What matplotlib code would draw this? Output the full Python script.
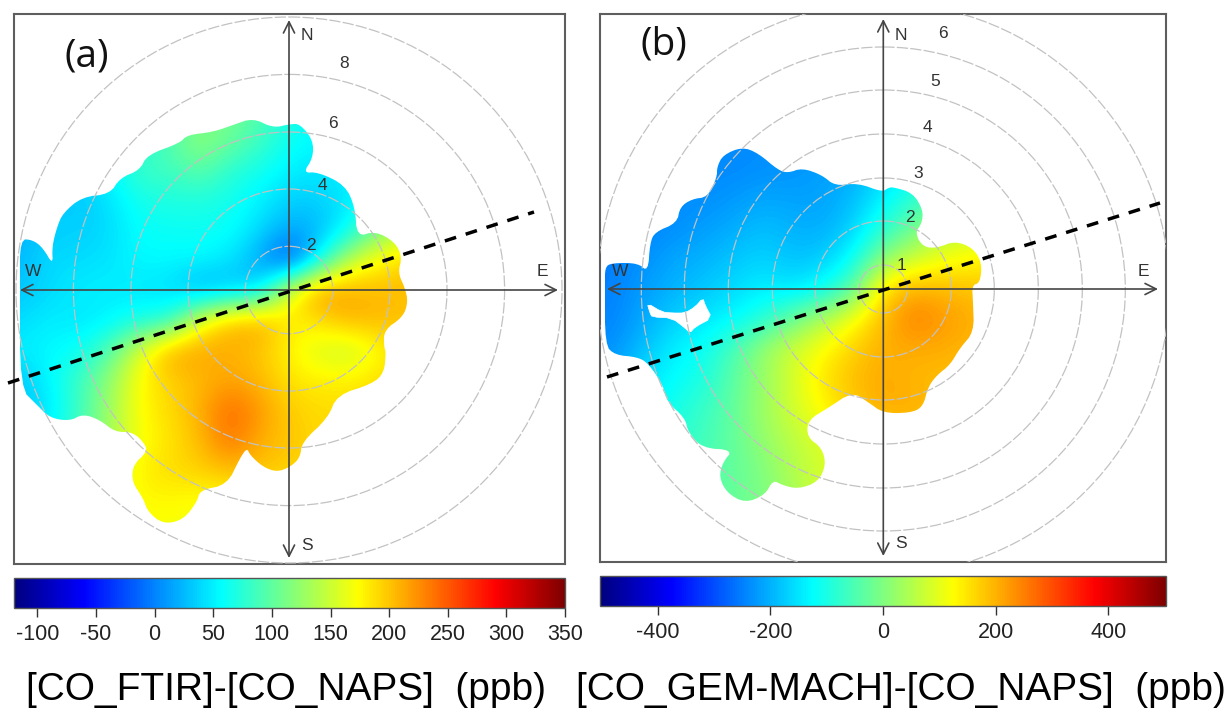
import numpy as np
import matplotlib
matplotlib.use("Agg")
import matplotlib.pyplot as plt
from matplotlib.colors import LinearSegmentedColormap, Normalize
from matplotlib.cm import ScalarMappable
from matplotlib.patches import Circle, Polygon

W, H = 1229, 711
jet_colours = ["#00007F", "#0000FF", "#007FFF", "#00FFFF", "#7FFF7F", "#FFFF00", "#FF7F00", "#FF0000", "#7F0000"]

# ---- panel (a): gridded difference (ppb), sampled every 30 plot units
a_x = [20, 50, 80, 110, 140, 170, 200, 230, 260, 290, 320, 350, 380, 410]
a_y = [110, 140, 170, 200, 230, 260, 290, 320, 350, 380, 410, 440, 470, 500, 530]
a_values = [
    [40, 40, 50, 60, 70, 85, 105, 110, 95, 70, 55, 55, 55, 55],
    [40, 40, 50, 60, 70, 95, 125, 105, 85, 60, 55, 55, 55, 55],
    [40, 40, 40, 55, 85, 85, 100, 75, 65, 50, 45, 50, 55, 55],
    [35, 35, 30, 45, 65, 70, 70, 65, 50, 35, 35, 50, 60, 60],
    [20, 35, 35, 40, 60, 60, 62, 60, 40, 15, 25, 60, 120, 150],
    [25, 40, 40, 45, 55, 55, 55, 45, 15, -35, 60, 150, 175, 195],
    [30, 40, 50, 50, 45, 40, 15, 25, 40, 165, 225, 210, 205, 205],
    [40, 50, 45, 50, 65, 70, 165, 205, 215, 180, 190, 210, 205, 200],
    [50, 55, 60, 95, 160, 215, 215, 210, 200, 175, 155, 145, 175, 190],
    [30, 55, 85, 125, 175, 195, 205, 215, 205, 185, 180, 180, 190, 190],
    [30, 45, 85, 130, 175, 190, 210, 245, 220, 195, 190, 190, 190, 190],
    [40, 60, 90, 135, 170, 185, 205, 240, 210, 200, 190, 185, 185, 185],
    [60, 80, 110, 150, 180, 190, 195, 205, 200, 195, 185, 185, 185, 185],
    [80, 100, 130, 160, 175, 175, 170, 170, 175, 180, 180, 180, 180, 180],
    [80, 100, 130, 160, 170, 170, 170, 170, 170, 175, 180, 180, 180, 180],
]
a_outline_x = [290, 300, 313, 313, 303, 318, 345, 355, 357, 375, 395, 402, 398, 405, 408, 403, 384, 384, 386, 384, 372, 337,
               328, 302, 300, 290, 277, 263, 250, 247, 240, 227, 200, 197, 183, 163, 148, 143, 132, 133, 147, 145, 133, 115,
               100, 83, 70, 50, 37, 20, 20, 20, 33, 43, 53, 52, 57, 63, 82, 110, 120, 140, 147, 180, 187, 213, 233, 253, 273]
a_outline_y = [124, 124, 140, 158, 173, 172, 185, 207, 237, 231, 242, 257, 273, 288, 302, 317, 330, 347, 352, 373, 384, 395,
               418, 442, 458, 467, 472, 467, 455, 448, 458, 485, 490, 502, 520, 524, 512, 498, 482, 465, 452, 444, 432, 432,
               420, 414, 421, 418, 405, 388, 285, 239, 240, 248, 265, 247, 227, 213, 197, 194, 178, 170, 155, 143, 135, 132, 125, 118, 128]
a_rings = [2, 4, 6, 8, 10]
a_ring_radius = [43.7, 101, 158, 215.6, 273]
a_ring_labels = ["2", "4", "6", "8"]
a_label_x = [311, 322, 333, 344]
a_label_y = [245, 185, 123, 63]
a_sector_x = [8, 534]
a_sector_y = [383, 212]
a_ticks = [-100, -50, 0, 50, 100, 150, 200, 250, 300, 350]
a_range = [-120, 350]

# ---- panel (b)
b_x = [613, 643, 673, 703, 733, 763, 793, 823, 853, 883, 913, 943, 973, 1003]
b_y = [139, 169, 199, 229, 259, 289, 319, 349, 379, 409, 439, 469, 499]
b_values = [
    [-250, -250, -245, -240, -240, -235, -230, -225, -215, -190, -150, -120, -100, -90],
    [-250, -250, -245, -240, -240, -235, -230, -220, -210, -170, -130, -100, -80, -70],
    [-250, -245, -240, -235, -225, -210, -215, -215, -190, -135, -80, -40, -20, 0],
    [-250, -245, -235, -220, -205, -185, -200, -205, -170, -85, -20, 50, 70, 80],
    [-250, -235, -210, -200, -180, -165, -185, -175, -120, 15, 75, 110, 130, 140],
    [-250, -220, -200, -180, -160, -140, -150, -120, -40, 160, 205, 195, 185, 175],
    [-245, -210, -170, -150, -130, -90, -20, 50, 120, 190, 255, 225, 205, 190],
    [-235, -185, -140, -115, -55, 25, 80, 125, 170, 205, 205, 205, 195, 175],
    [-210, -150, -125, -100, -35, 20, 85, 150, 190, 210, 195, 190, 180, 170],
    [-200, -140, -105, -70, -30, 30, 80, 130, 175, 210, 205, 190, 175, 170],
    [-180, -120, -90, -60, -30, 20, 60, 90, 120, 150, 170, 170, 170, 170],
    [-160, -110, -80, -50, -30, 0, 50, 85, 110, 130, 150, 150, 150, 150],
    [-150, -100, -70, -40, -25, -5, 40, 80, 100, 120, 130, 130, 130, 130],
]
b_outline_x = [888, 893, 913, 923, 922, 915, 923, 937, 955, 973, 982, 980, 972, 973, 974, 960, 950, 937, 928, 923, 910, 883, 868,
               852, 828, 808, 807, 822, 826, 818, 798, 782, 773, 765, 745, 727, 719, 723, 733, 702, 688, 685, 667, 663, 648, 637,
               615, 605, 605, 605, 612, 638, 648, 650, 655, 677, 680, 692, 708, 717, 717, 723, 742, 758, 778, 788, 802, 822, 835, 858, 882]
b_outline_y = [188, 187, 193, 210, 223, 233, 247, 248, 241, 248, 263, 283, 285, 302, 332, 348, 365, 375, 387, 407, 413, 413, 402,
               392, 408, 420, 437, 448, 465, 482, 489, 485, 480, 495, 503, 493, 477, 462, 450, 448, 432, 418, 402, 385, 363, 357,
               355, 345, 285, 267, 263, 263, 272, 243, 232, 223, 207, 199, 197, 177, 167, 155, 147, 153, 170, 173, 168, 175, 186, 183, 192]
b_hole_x = [647, 650, 652, 672, 685, 690, 695, 712, 705, 703, 695, 685, 672, 662]
b_hole_y = [303, 313, 317, 318, 328, 333, 327, 318, 305, 298, 307, 313, 313, 312]
b_rings = [1, 2, 3, 4, 5, 6, 7]
b_ring_radius = [24, 68, 111, 155, 199, 242, 286]
b_ring_labels = ["1", "2", "3", "4", "5", "6"]
b_label_x = [901, 910, 918, 927, 935, 943]
b_label_y = [265, 218, 173, 127, 81, 34]
b_sector_x = [607, 1160]
b_sector_y = [377, 203]
b_ticks = [-400, -200, 0, 200, 400]
b_range = [-502, 502]

cmap = LinearSegmentedColormap.from_list("openair_jet", jet_colours, N=256)
fig = plt.figure(figsize=(W / 100, H / 100), dpi=100)
plt.rcParams["font.family"] = ["Liberation Sans", "DejaVu Sans"]


def px_axes(x0, x1, y0, y1):
    return fig.add_axes([x0 / W, 1 - y1 / H, (x1 - x0) / W, (y1 - y0) / H])


def rounded(x, y, passes=2):
    """Corner cutting so the traced outline has the round lobes of the original."""
    pts = np.column_stack([x, y]).astype(float)
    for _ in range(passes):
        nxt = np.roll(pts, -1, axis=0)
        pts = np.column_stack([0.75 * pts + 0.25 * nxt, 0.25 * pts + 0.75 * nxt]).reshape(-1, 2)
    return pts


def panel(box, centre, gx, gy, vals, ox, oy, vrange, radii, rlabels, lx, ly, sx, sy, ends, compass, tag, hole=None):
    ax = px_axes(*box)
    ax.set_xlim(box[0], box[1])
    ax.set_ylim(box[3], box[2])
    ax.set_xticks([])
    ax.set_yticks([])
    for s in ax.spines.values():
        s.set_color("#5e5e5e")
        s.set_linewidth(1.5)
    stepx = gx[1] - gx[0]
    stepy = gy[1] - gy[0]
    im = ax.imshow(np.array(vals, float), cmap=cmap, vmin=vrange[0], vmax=vrange[1], aspect="auto",
                   origin="upper", interpolation="bicubic", interpolation_stage="data",
                   extent=[gx[0] - stepx / 2, gx[-1] + stepx / 2, gy[-1] + stepy / 2, gy[0] - stepy / 2], zorder=1)
    ax.set_xlim(box[0], box[1])
    ax.set_ylim(box[3], box[2])
    clip = Polygon(rounded(ox, oy), closed=True, transform=ax.transData, fc="none", ec="none")
    ax.add_patch(clip)
    im.set_clip_path(clip)
    if hole is not None:
        ax.add_patch(Polygon(rounded(*hole, passes=1), closed=True, fc="white", ec="white", lw=0.5, zorder=2))
    for r in radii:
        ax.add_patch(Circle(centre, r, fill=False, ec="#c2c2c2", lw=0.9, ls=(0, (9, 1.8)), zorder=3))
    arrow = dict(arrowstyle="<->,head_length=0.8,head_width=0.4", color="#454545", lw=1.2, shrinkA=0, shrinkB=0)
    ax.annotate("", xy=(ends[0], centre[1]), xytext=(ends[1], centre[1]), arrowprops=arrow, zorder=4)
    ax.annotate("", xy=(centre[0], ends[2]), xytext=(centre[0], ends[3]), arrowprops=arrow, zorder=4)
    for t, x, y in zip(rlabels, lx, ly):
        ax.text(x, y, t, fontsize=12.5, color="#333333", ha="center", va="center", zorder=5)
    for t, (x, y) in compass.items():
        ax.text(x, y, t, fontsize=12.5, color="#333333", ha="center", va="center", zorder=5)
    ax.plot(sx, sy, color="black", lw=2.5, ls=(0, (3.4, 2.9)), clip_on=False, zorder=6)
    ax.text(tag[1], tag[2], tag[0], fontsize=28, family="Open Sans", color="#111111", ha="center", va="center", zorder=7)


panel((14, 565, 14, 564), (289, 290), a_x, a_y, a_values, a_outline_x, a_outline_y, a_range,
      a_ring_radius, a_ring_labels, a_label_x, a_label_y, a_sector_x, a_sector_y, (20, 558, 20, 558),
      {"N": (307, 36), "E": (542, 272), "S": (307, 545), "W": (33, 272)}, ("(a)", 87, 56))
panel((600, 1166, 14, 562), (883.3, 289), b_x, b_y, b_values, b_outline_x, b_outline_y, b_range,
      b_ring_radius, b_ring_labels, b_label_x, b_label_y, b_sector_x, b_sector_y, (607, 1158, 19, 556),
      {"N": (901, 36), "E": (1143, 272), "S": (901, 544), "W": (620, 272)}, ("(b)", 664, 44),
      hole=(b_hole_x, b_hole_y))


def cbar(box, vrange, ticks):
    cax = px_axes(*box)
    cb = fig.colorbar(ScalarMappable(Normalize(vrange[0], vrange[1]), cmap), cax=cax, orientation="horizontal")
    cb.set_ticks(ticks)
    cb.set_ticklabels([str(t) for t in ticks])
    cax.tick_params(axis="x", length=6.5, width=1, color="#333333", labelsize=15.5, labelcolor="#222222", pad=5)
    cb.outline.set_edgecolor("#555555")
    cb.outline.set_linewidth(1)


cbar((14, 565, 578, 608), a_range, a_ticks)
cbar((600, 1166, 576, 606), b_range, b_ticks)

fig.text(286 / W, 1 - 690 / H, "[CO_FTIR]-[CO_NAPS]  (ppb)", fontsize=28, color="black", ha="center", va="center")
fig.text(901 / W, 1 - 690 / H, "[CO_GEM-MACH]-[CO_NAPS]  (ppb)", fontsize=28, color="black", ha="center", va="center")

fig.savefig("out.png", dpi=100)
